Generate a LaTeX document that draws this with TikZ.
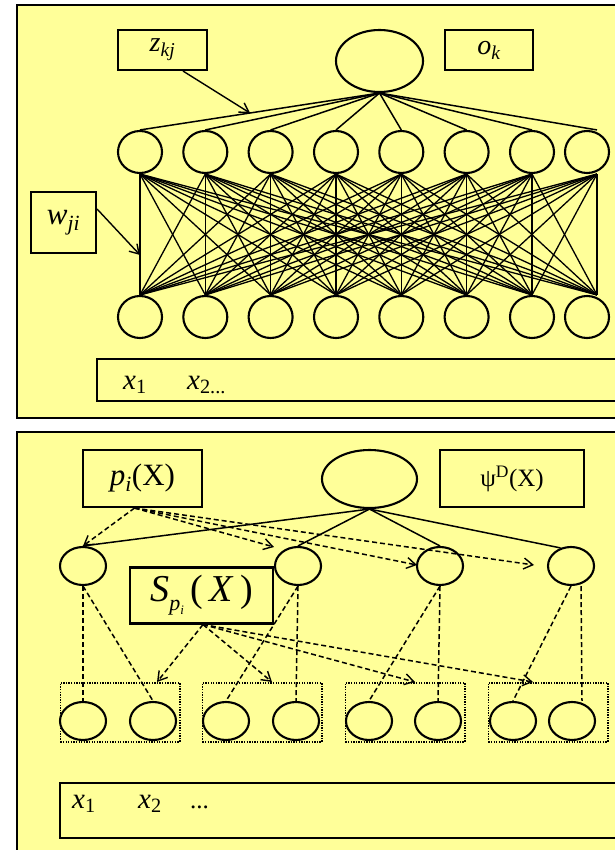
\documentclass[tikz,border=0pt]{standalone}
\usepackage{fontspec}
\setmainfont{Liberation Serif}
\usetikzlibrary{shapes.geometric,arrows.meta}
\definecolor{panel}{RGB}{255,255,153}
\begin{document}
\begin{tikzpicture}[x=1pt,y=-1pt,
  panelbox/.style={draw=black,line width=2.5pt,fill=panel},
  lbox/.style={draw=black,line width=2.1pt,rectangle,inner sep=0pt},
  unit/.style={draw=black,line width=2.1pt,ellipse,inner sep=0pt},
  wire/.style={line width=1.3pt},
  swire/.style={line width=1.5pt},
  sarrow/.style={line width=1.4pt,-{Straight Barb[length=9pt,width=11pt,line width=1.4pt]}},
  dwire/.style={line width=1.5pt,dash pattern=on 5pt off 3pt},
  darrow/.style={dwire,-{Straight Barb[length=9pt,width=11pt,line width=1.4pt]}},
  grp/.style={draw=black,line width=1.6pt,dash pattern=on 1.3pt off 1.3pt,rectangle,inner sep=0pt},
  lab/.style={inner sep=0pt,anchor=base west}
]
\useasboundingbox (0,0) rectangle (614,850);
\fill[white] (0,0) rectangle (614,850);

% ---------------- top panel ----------------
\draw[panelbox] (17,5) rectangle (625,418);

\node[unit,minimum width=87pt,minimum height=62pt] (top) at (379.5,61) {};
\node[lbox,minimum width=89pt,minimum height=40pt] (zbox) at (162.5,50)
  {\fontsize{28}{28}\selectfont\textit{z}\textsubscript{\textit{kj}}};
\node[lbox,minimum width=88pt,minimum height=40pt] (obox) at (489,50)
  {\fontsize{28}{28}\selectfont\textit{o}\textsubscript{\textit{k}}};
\node[lbox,minimum width=65pt,minimum height=61pt] (wbox) at (63.5,222.5)
  {\fontsize{31}{31}\selectfont\textit{w}\textsubscript{\textit{ji}}};

\foreach \j/\x in {1/140,2/205.3,3/270.6,4/336,5/401.3,6/466.6,7/532,8/587} {
  \node[unit,minimum width=44pt,minimum height=42pt] (h\j) at (\x,152) {};
  \node[unit,minimum width=44pt,minimum height=42pt] (i\j) at (\x,317) {};
}
\foreach \j in {1,...,7} {
  \coordinate (ht\j) at (h\j.north);
  \coordinate (hb\j) at (h\j.south);
  \coordinate (it\j) at (i\j.north);
}
\coordinate (ht8) at ([xshift=10pt]h8.north);
\coordinate (hb8) at ([xshift=10pt]h8.south);
\coordinate (it8) at ([xshift=10pt]i8.north);

\foreach \j in {1,...,8} \draw[swire] (top.south) -- (ht\j);
\foreach \a in {1,...,8} \foreach \b in {1,...,8} \draw[wire] (hb\a) -- (it\b);

\coordinate (zt) at (250,113);
\draw[sarrow] ([xshift=20.5pt]zbox.south) -- (zt);
\coordinate (wt) at (140,255);
\draw[sarrow] ([yshift=13.5pt]wbox.east) -- (wt);

\node[lbox,minimum width=530pt,minimum height=42pt,anchor=north west] (xin1) at (96,358) {};
\node[lab] (x11) at (123,389) {\fontsize{29}{29}\selectfont\textit{x}\textsubscript{1}};
\node[lab] (x12) at (187,389) {\fontsize{29}{29}\selectfont\textit{x}\textsubscript{2...}};

% ---------------- bottom panel ----------------
\draw[panelbox] (17,432) rectangle (625,855);

\node[unit,minimum width=95pt,minimum height=58pt] (top2) at (369.5,479) {};
\node[lbox,minimum width=119pt,minimum height=57pt] (pbox) at (142.5,478.5)
  {\fontsize{31}{31}\selectfont\textit{p}\textsubscript{\textit{i}}(X)};
\node[lbox,minimum width=144pt,minimum height=57pt] (psibox) at (512,478.5)
  {\fontsize{25}{25}\selectfont ψ\textsuperscript{D}(X)};

\foreach \j/\x in {1/83,2/298,3/440,4/571} {
  \node[unit,minimum width=46pt,minimum height=38pt] (c\j) at (\x,566) {};
}
\node[lbox,minimum width=143pt,minimum height=56pt,fill=panel] (sbox) at (201.5,595.5)
  {\fontsize{38}{38}\selectfont\textit{S}\raisebox{-9pt}{\fontsize{22}{22}\selectfont\textit{p}\raisebox{-4pt}{\fontsize{13}{13}\selectfont\textit{i}}}\,(\,\textit{X}\,)};

\foreach \j/\x in {1/59.5,2/201.6,3/344.6,4/487.5} {
  \node[grp,minimum width=119.5pt,minimum height=59pt,anchor=north west] (g\j) at (\x,682) {};
}
\foreach \j/\x in {1/83,2/153,3/226,4/296,5/369,6/438,7/513,8/572} {
  \node[unit,minimum width=46pt,minimum height=38pt] (b\j) at (\x,721) {};
}

% solid lines from output unit
\draw[swire] (top2.south) -- (c1.north);
\draw[swire] (top2.south) -- (c2.north);
\draw[swire] (top2.south) -- (c3.north);
\draw[swire] (top2.south) -- (c4.120);

% dashed arrows from p_i(X)
\coordinate (pa2) at (274,547);
\coordinate (pa3) at (417,565);
\coordinate (pa4) at (534,565);
\draw[darrow] ([xshift=-8pt]pbox.south) -- (c1.north);
\draw[darrow] ([xshift=-8pt]pbox.south) -- (pa2);
\draw[darrow] ([xshift=-8pt]pbox.south) -- (pa3);
\draw[darrow] ([xshift=-8pt]pbox.south) -- (pa4);

% dashed connections between layers
\draw[dwire] (c1.south) -- (b1.north);
\draw[dwire] (c1.south) -- (b2.north);
\draw[dwire] (c2.south) -- (b3.north);
\draw[dwire] (c2.south) -- (b4.north);
\draw[dwire] (c3.south) -- (b5.north);
\draw[dwire] (c3.south) -- (b6.north);
\draw[dwire] (c4.south) -- (b7.north);
\draw[dwire] ([xshift=10pt]c4.south) -- ([xshift=10pt]b8.north);

% dashed arrows from S_{p_i}(X)
\coordinate (sa1) at (157,682);
\coordinate (sa2) at (272,682);
\coordinate (sa3) at (415,682);
\coordinate (sa4) at (533,682);
\draw[darrow] ([xshift=1.5pt]sbox.south) -- (sa1);
\draw[darrow] ([xshift=1.5pt]sbox.south) -- (sa2);
\draw[darrow] ([xshift=1.5pt]sbox.south) -- (sa3);
\draw[darrow] ([xshift=1.5pt]sbox.south) -- (sa4);

\node[lbox,minimum width=561pt,minimum height=55pt,anchor=north west] (xin2) at (59,782) {};
\node[lab] (x21) at (72,808) {\fontsize{29}{29}\selectfont\textit{x}\textsubscript{1}};
\node[lab] (x22) at (138,808) {\fontsize{29}{29}\selectfont\textit{x}\textsubscript{2}};
\node[lab] (x23) at (190,808) {\fontsize{25}{25}\selectfont ...};
\end{tikzpicture}
\end{document}
